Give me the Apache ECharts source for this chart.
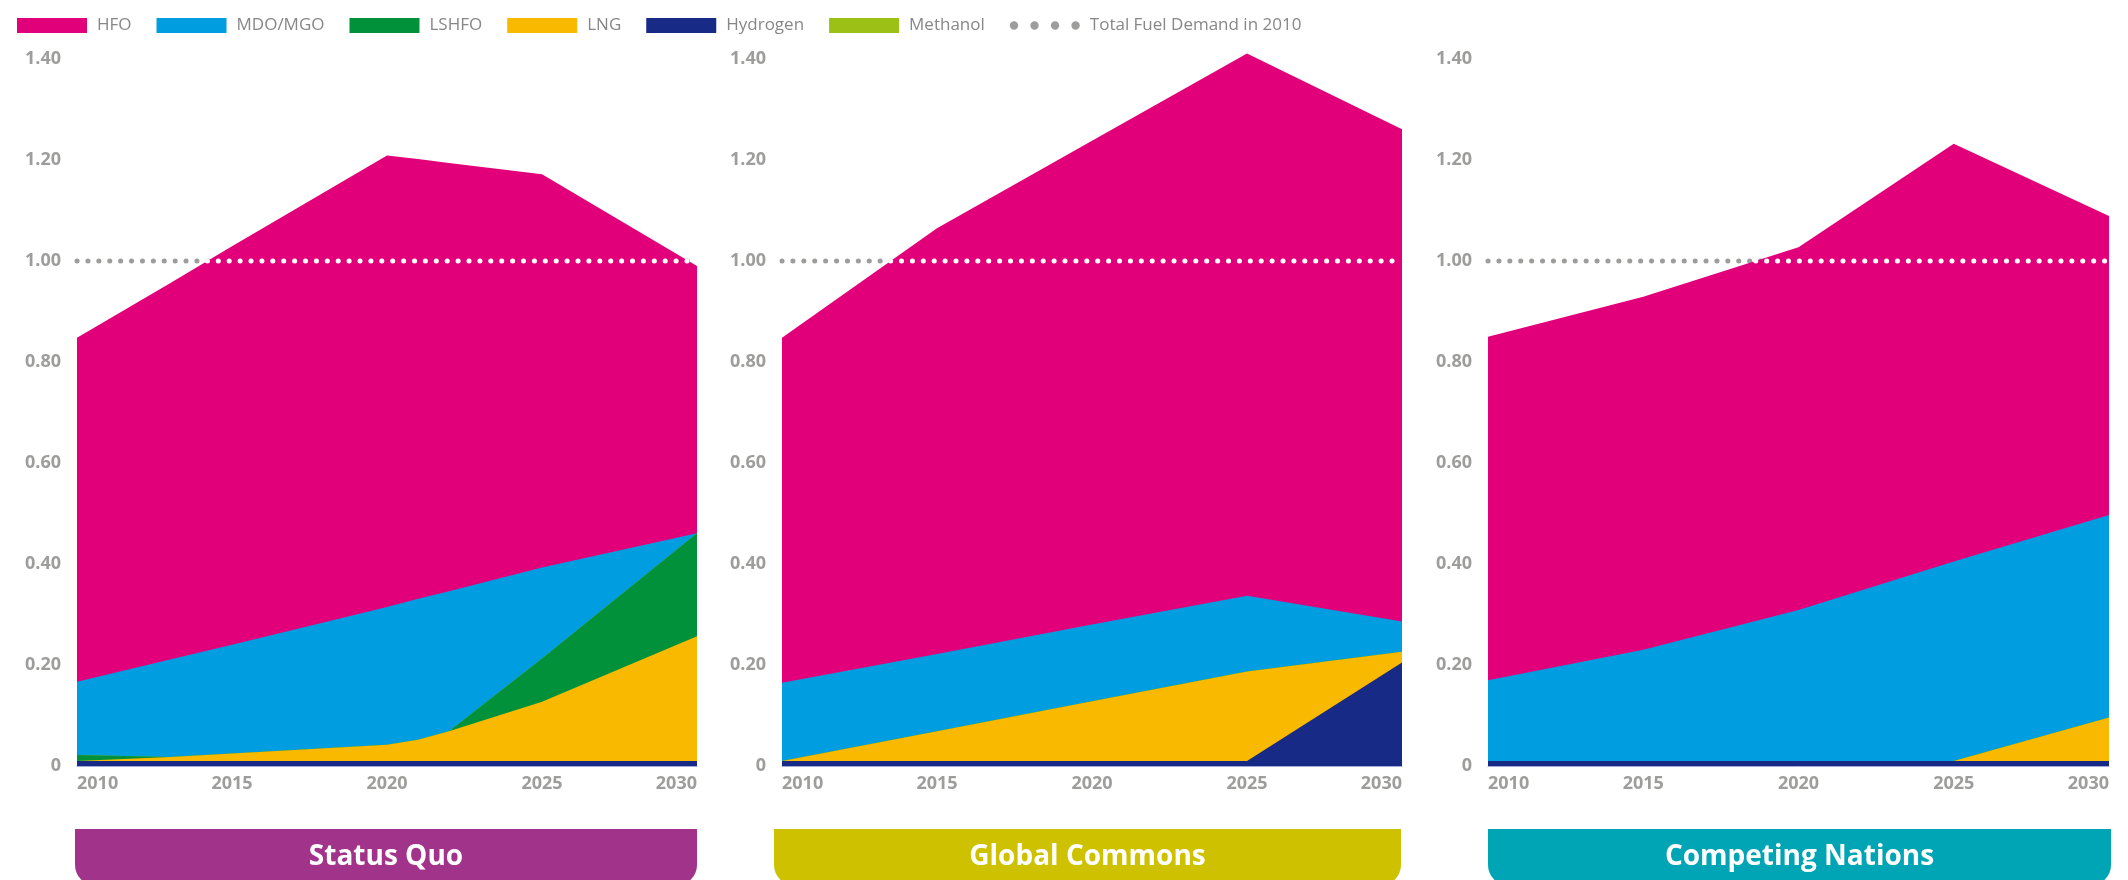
<!DOCTYPE html>
<html>
<head>
<meta charset="utf-8">
<title>Fuel demand by scenario</title>
<script src="https://cdn.jsdelivr.net/npm/echarts@6/dist/echarts.min.js"></script>
<style>
  html, body { margin: 0; padding: 0; background: #ffffff; }
  #container { width: 2128px; height: 880px; }
</style>
</head>
<body>
<div id="container"></div>
<script>
  // fuel order in the legend
  const legendFuels = ['HFO', 'MDO/MGO', 'LSHFO', 'LNG', 'Hydrogen', 'Methanol'];
  // fuel order from the axis upwards
  const stackOrder = ['Hydrogen', 'LNG', 'LSHFO', 'Methanol', 'MDO/MGO', 'HFO'];
  const fuelColors = {
    'HFO': '#e2007a',
    'MDO/MGO': '#009ee0',
    'LSHFO': '#00913a',
    'LNG': '#f9b900',
    'Hydrogen': '#172a85',
    'Methanol': '#9dc016'
  };
  const demandName = 'Total Fuel Demand in 2010';
  const demandLevel = 1.0;

  const panelNames = ['Status Quo', 'Global Commons', 'Competing Nations'];
  const panelColors = ['#a2338a', '#cec200', '#00a5b5'];

  const yTicks = [0, 0.2, 0.4, 0.6, 0.8, 1.0, 1.2, 1.4];
  const xTicks = [2010, 2015, 2020, 2025, 2030];

  // Status Quo
  const sqYears = [2010, 2013, 2015, 2020, 2021, 2022, 2025, 2030];
  const sqHydrogen = [0.01, 0.01, 0.01, 0.01, 0.01, 0.01, 0.01, 0.01];
  const sqLng = [0, 0.008, 0.015, 0.032, 0.042, 0.059, 0.117, 0.247];
  const sqLshfo = [0.012, 0, 0, 0, 0, 0, 0.086, 0.204];
  const sqMethanol = [0, 0, 0, 0, 0, 0, 0, 0];
  const sqMdo = [0.145, 0.193, 0.215, 0.273, 0.279, 0.277, 0.18, 0];
  const sqHfo = [0.681, 0.745, 0.789, 0.894, 0.871, 0.848, 0.779, 0.529];

  // Global Commons
  const gcYears = [2010, 2015, 2020, 2025, 2030];
  const gcHydrogen = [0.01, 0.01, 0.01, 0.01, 0.205];
  const gcLng = [0, 0.059, 0.118, 0.177, 0.021];
  const gcLshfo = [0, 0, 0, 0, 0];
  const gcMethanol = [0, 0, 0, 0, 0];
  const gcMdo = [0.155, 0.153, 0.152, 0.15, 0.06];
  const gcHfo = [0.683, 0.843, 0.958, 1.074, 0.975];

  // Competing Nations
  const cnYears = [2010, 2015, 2020, 2025, 2030];
  const cnHydrogen = [0.01, 0.01, 0.01, 0.01, 0.01];
  const cnLng = [0, 0, 0, 0, 0.086];
  const cnLshfo = [0, 0, 0, 0, 0];
  const cnMethanol = [0, 0, 0, 0, 0];
  const cnMdo = [0.16, 0.22, 0.299, 0.395, 0.401];
  const cnHfo = [0.68, 0.699, 0.718, 0.827, 0.592];

  const panels = [
    { years: sqYears, fuels: { 'Hydrogen': sqHydrogen, 'LNG': sqLng, 'LSHFO': sqLshfo, 'Methanol': sqMethanol, 'MDO/MGO': sqMdo, 'HFO': sqHfo } },
    { years: gcYears, fuels: { 'Hydrogen': gcHydrogen, 'LNG': gcLng, 'LSHFO': gcLshfo, 'Methanol': gcMethanol, 'MDO/MGO': gcMdo, 'HFO': gcHfo } },
    { years: cnYears, fuels: { 'Hydrogen': cnHydrogen, 'LNG': cnLng, 'LSHFO': cnLshfo, 'Methanol': cnMethanol, 'MDO/MGO': cnMdo, 'HFO': cnHfo } }
  ];

  // layout
  const gridLeft = [77, 782, 1488];
  const gridWidth = [620, 620, 621];
  const boxLeft = [75, 774, 1488];
  const boxWidth = [622, 627, 623];

  const grey = '#9d9d9c';
  const font = '"Open Sans", "Noto Sans", sans-serif';

  // 4 dots for the legend icon
  const dotsIcon = 'path://M0,4.5a4.5,4.5 0 1,0 9,0a4.5,4.5 0 1,0 -9,0Z' +
    'M22,4.5a4.5,4.5 0 1,0 9,0a4.5,4.5 0 1,0 -9,0Z' +
    'M44,4.5a4.5,4.5 0 1,0 9,0a4.5,4.5 0 1,0 -9,0Z' +
    'M66,4.5a4.5,4.5 0 1,0 9,0a4.5,4.5 0 1,0 -9,0Z';

  // parts of the 1.00 line that lie inside the filled area
  function coveredSegments(years, totals, level) {
    const out = [];
    for (let k = 0; k < years.length; k++) {
      if (totals[k] >= level) out.push([years[k], level]);
      if (k < years.length - 1) {
        const a = totals[k] - level;
        const b = totals[k + 1] - level;
        if (a * b < 0) {
          const xc = years[k] + (-a) / (b - a) * (years[k + 1] - years[k]);
          out.push([xc, level]);
          if (b < 0) out.push([xc, '-']);
        }
      }
    }
    return out;
  }

  const grids = [];
  const xAxes = [];
  const yAxes = [];
  const series = [];
  const graphics = [];

  panels.forEach(function(panel, i) {
    grids.push({ left: gridLeft[i], width: gridWidth[i], top: 59, height: 707 });

    xAxes.push({
      type: 'value',
      gridIndex: i,
      min: xTicks[0],
      max: xTicks[xTicks.length - 1],
      interval: 5,
      splitLine: { show: false },
      axisTick: { show: false },
      axisLine: { show: true, lineStyle: { color: '#a3aad6', width: 1 } },
      axisLabel: {
        color: grey,
        fontFamily: font,
        fontWeight: 'bold',
        fontSize: 18,
        margin: 9,
        alignMinLabel: 'left',
        alignMaxLabel: 'right',
        formatter: function(v) { return String(v); }
      }
    });

    yAxes.push({
      type: 'value',
      gridIndex: i,
      min: yTicks[0],
      max: yTicks[yTicks.length - 1],
      interval: 0.2,
      splitLine: { show: false },
      axisTick: { show: false },
      axisLine: { show: false },
      axisLabel: {
        color: grey,
        fontFamily: font,
        fontWeight: 'bold',
        fontSize: 18,
        margin: 16,
        formatter: function(v) { return v === 0 ? '0' : v.toFixed(2); }
      }
    });

    // cumulative tops, drawn from the top layer down so no seams show
    const tops = [];
    let running = panel.years.map(function() { return 0; });
    stackOrder.forEach(function(name) {
      running = running.map(function(s, k) { return s + panel.fuels[name][k]; });
      tops.push({ name: name, values: running.slice() });
    });
    const totals = tops[tops.length - 1].values;

    tops.forEach(function(layer, li) {
      series.push({
        type: 'line',
        name: layer.name,
        xAxisIndex: i,
        yAxisIndex: i,
        data: panel.years.map(function(y, k) { return [y, layer.values[k]]; }),
        symbol: 'none',
        silent: true,
        clip: false,
        z: 10 - li,
        itemStyle: { color: fuelColors[layer.name] },
        lineStyle: { width: 0 },
        areaStyle: { color: fuelColors[layer.name], opacity: 1 }
      });
    });

    // total demand 2010: grey dots behind the areas, white dots on top of them
    series.push({
      type: 'line',
      name: demandName,
      xAxisIndex: i,
      yAxisIndex: i,
      data: [[2010, demandLevel], [2030, demandLevel]],
      symbol: 'none',
      silent: true,
      z: 1,
      itemStyle: { color: grey },
      lineStyle: { color: grey, width: 5, type: [0.1, 10.8], cap: 'round' }
    });
    series.push({
      type: 'line',
      name: 'demand-inside',
      xAxisIndex: i,
      yAxisIndex: i,
      data: coveredSegments(panel.years, totals, demandLevel),
      symbol: 'none',
      silent: true,
      connectNulls: false,
      z: 20,
      itemStyle: { color: '#ffffff' },
      lineStyle: { color: '#ffffff', width: 5, type: [0.1, 10.8], cap: 'round' }
    });

    // scenario name box under each chart
    graphics.push({
      type: 'rect',
      shape: { x: boxLeft[i], y: 829, width: boxWidth[i], height: 56, r: [0, 0, 20, 20] },
      style: { fill: panelColors[i] },
      silent: true
    });
    graphics.push({
      type: 'text',
      x: boxLeft[i] + boxWidth[i] / 2,
      y: 857,
      style: {
        text: panelNames[i],
        fill: '#ffffff',
        font: 'bold 28px ' + font,
        align: 'center',
        verticalAlign: 'middle'
      },
      silent: true
    });
  });

  const legendData = legendFuels.map(function(name) { return { name: name }; });
  legendData.push({ name: demandName, icon: dotsIcon });

  const chart = echarts.init(document.getElementById('container'));
  const option = {
    animation: false,
    backgroundColor: '#ffffff',
    legend: {
      left: 12,
      top: 12,
      icon: 'rect',
      itemWidth: 70,
      itemHeight: 15,
      itemGap: 25,
      symbolKeepAspect: true,
      selectedMode: false,
      itemStyle: { borderWidth: 0 },
      textStyle: {
        color: '#878787',
        fontSize: 17,
        fontFamily: font,
        padding: [0, 0, 0, 5]
      },
      data: legendData
    },
    grid: grids,
    xAxis: xAxes,
    yAxis: yAxes,
    series: series,
    graphic: graphics
  };
  chart.setOption(option);
</script>
</body>
</html>
